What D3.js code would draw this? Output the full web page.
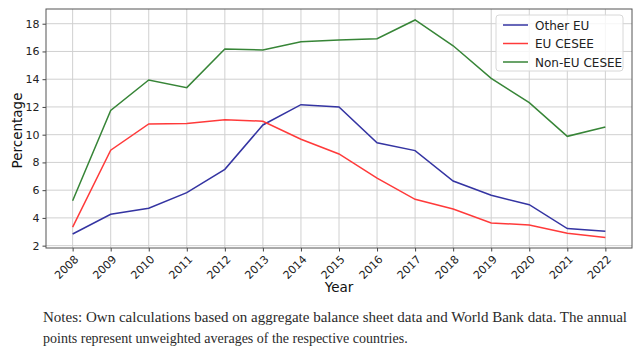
<!DOCTYPE html>
<html>
<head>
<meta charset="utf-8">
<script src="https://cdn.jsdelivr.net/npm/d3@7"></script>
<style>
  body { margin: 0; background: #fff; }
  svg { display: block; }
</style>
</head>
<body>
<div class="container"></div>
<script>
const w = 640;
const h = 353;

const years = [2008, 2009, 2010, 2011, 2012, 2013, 2014, 2015, 2016, 2017, 2018, 2019, 2020, 2021, 2022];
const otherEU = [2.84, 4.26, 4.70, 5.82, 7.50, 10.70, 12.16, 12.00, 9.42, 8.85, 6.66, 5.63, 4.95, 3.23, 3.04];
const euCESEE = [3.33, 8.88, 10.77, 10.80, 11.08, 10.97, 9.67, 8.61, 6.86, 5.34, 4.64, 3.64, 3.49, 2.89, 2.58];
const nonEuCESEE = [5.24, 11.74, 13.94, 13.39, 16.18, 16.10, 16.70, 16.83, 16.92, 18.27, 16.41, 14.06, 12.31, 9.88, 10.55];
const yTicks = [2, 4, 6, 8, 10, 12, 14, 16, 18];

const seriesNames = ['Other EU', 'EU CESEE', 'Non-EU CESEE'];
const seriesColors = ['#3434a2', '#ff3a3a', '#378537'];

const notes = [
  'Notes: Own calculations based on aggregate balance sheet data and World Bank data. The annual',
  'points represent unweighted averages of the respective countries.',
];

const margin = { left: 46, right: 8, top: 9, bottom: 105 };
const pw = w - margin.left - margin.right;
const ph = h - margin.top - margin.bottom;

const svg = d3.select('.container').append('svg')
  .attr('width', w)
  .attr('height', h);

const x = d3.scaleLinear().domain([2007.3, 2022.7]).range([margin.left, margin.left + pw]);
const y = d3.scaleLinear().domain([1.83, 19.06]).range([margin.top + ph, margin.top]);

// grid
const grid = svg.append('g');
grid.selectAll('line.vx').data(years).enter().append('line')
  .attr('x1', (d) => x(d)).attr('x2', (d) => x(d))
  .attr('y1', margin.top).attr('y2', margin.top + ph)
  .attr('stroke', '#d0d0d0').attr('stroke-width', 1);
grid.selectAll('line.hy').data(yTicks).enter().append('line')
  .attr('x1', margin.left).attr('x2', margin.left + pw)
  .attr('y1', (d) => y(d)).attr('y2', (d) => y(d))
  .attr('stroke', '#d0d0d0').attr('stroke-width', 1);

// lines
const allSeries = [otherEU, euCESEE, nonEuCESEE];
const line = d3.line().x((d, i) => x(years[i])).y((d) => y(d));
svg.append('g').selectAll('path').data(allSeries).enter().append('path')
  .attr('d', line)
  .attr('fill', 'none')
  .attr('stroke', (d, i) => seriesColors[i])
  .attr('stroke-width', 1.5);

// axes
const yAxis = d3.axisLeft(y).tickValues(yTicks).tickSize(3.5).tickPadding(3);
const gy = svg.append('g').attr('transform', `translate(${margin.left},0)`).call(yAxis);
gy.select('.domain').remove();
gy.selectAll('text').attr('font-family', 'DejaVu Sans').attr('font-size', 11).attr('fill', '#222');
gy.selectAll('line').attr('stroke', '#444');

const xAxis = d3.axisBottom(x).tickValues(years).tickFormat(d3.format('d')).tickSize(3.5);
const gx = svg.append('g').attr('transform', `translate(0,${margin.top + ph})`).call(xAxis);
gx.select('.domain').remove();
gx.selectAll('line').attr('stroke', '#444');
gx.selectAll('text')
  .attr('font-family', 'DejaVu Sans').attr('font-size', 11).attr('fill', '#222')
  .attr('text-anchor', 'end')
  .attr('dy', null).attr('y', 0)
  .attr('transform', 'translate(6,12) rotate(-45)');

// frame
svg.append('rect')
  .attr('x', margin.left).attr('y', margin.top)
  .attr('width', pw).attr('height', ph)
  .attr('fill', 'none').attr('stroke', '#555').attr('stroke-width', 1);

// axis labels
svg.append('text')
  .attr('x', margin.left + pw / 2).attr('y', 292)
  .attr('text-anchor', 'middle')
  .attr('font-family', 'DejaVu Sans').attr('font-size', 13.5).attr('fill', '#111')
  .text('Year');
svg.append('text')
  .attr('transform', `translate(22,${margin.top + ph / 2 + 2}) rotate(-90)`)
  .attr('text-anchor', 'middle')
  .attr('font-family', 'DejaVu Sans').attr('font-size', 13.5).attr('fill', '#111')
  .text('Percentage');

// legend
const lg = svg.append('g').attr('transform', 'translate(496,15)');
lg.append('rect')
  .attr('width', 127).attr('height', 56).attr('rx', 3)
  .attr('fill', '#fff').attr('fill-opacity', 0.8)
  .attr('stroke', '#d8d8d8');
const items = lg.selectAll('g.item').data(seriesNames).enter().append('g')
  .attr('transform', (d, i) => `translate(0,${10 + i * 18.5})`);
items.append('line')
  .attr('x1', 7).attr('x2', 32).attr('y1', 0).attr('y2', 0)
  .attr('stroke', (d, i) => seriesColors[i]).attr('stroke-width', 1.5);
items.append('text')
  .attr('x', 39).attr('y', 4.5)
  .attr('font-family', 'DejaVu Sans').attr('font-size', 12).attr('fill', '#222')
  .text((d) => d);

// notes
svg.selectAll('text.note').data(notes).enter().append('text')
  .attr('class', 'note')
  .attr('x', 43).attr('y', (d, i) => 322 + i * 21)
  .attr('font-family', 'Liberation Serif').attr('font-size', 14).attr('fill', '#2a2a2a')
  .attr('textLength', (d, i) => (i === 0 ? 584 : null))
  .attr('lengthAdjust', 'spacingAndGlyphs')
  .text((d) => d);
</script>
</body>
</html>
